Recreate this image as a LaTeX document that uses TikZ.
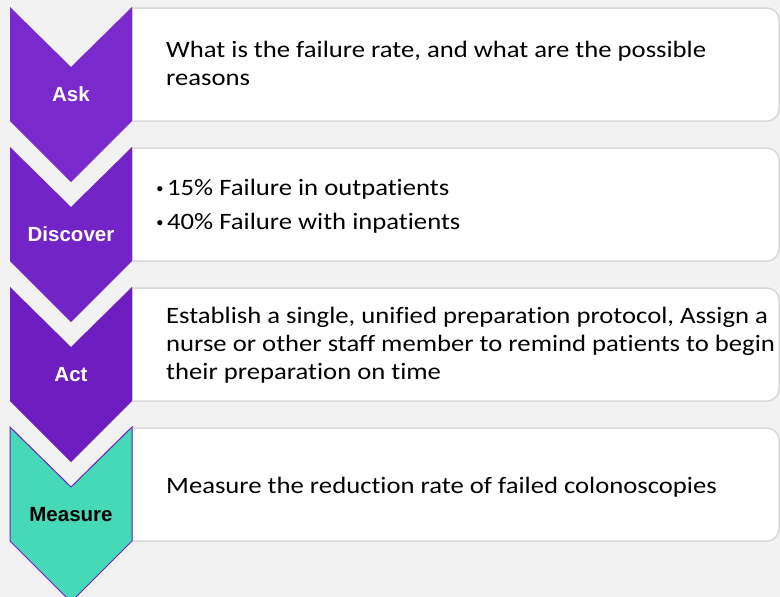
\documentclass[tikz,border=0pt]{standalone}
\usepackage{fontspec}
\setmainfont{Carlito}
\newfontfamily\bodyfont[FakeStretch=1.135,RawFeature=-liga]{Carlito}
\newfontfamily\tagfont{Liberation Sans}
\definecolor{pagebg}{HTML}{F2F2F2}
\definecolor{boxline}{HTML}{D9D9D9}
\definecolor{violetA}{HTML}{7A29CC}
\definecolor{violetB}{HTML}{7324C6}
\definecolor{violetC}{HTML}{6E1EC0}
\definecolor{mint}{HTML}{45D9B8}
\definecolor{mintline}{HTML}{7020C4}
% stacked lines with a fixed line pitch; the node baseline is the first line
\newcommand\stackedlines[2]{\vtop{\baselineskip=#1\relax\lineskiplimit=-100pt\relax #2}}
\newcommand\bulletline[1]{\hbox{\llap{{\tagfont\fontsize{19}{19}\selectfont\textbullet}\hspace{4pt}}#1}}
\begin{document}
\begin{tikzpicture}[x=1pt,y=-1pt,
  infobox/.style={fill=white,draw=boxline,line width=1.5pt},
  bodytext/.style={anchor=base west,inner sep=0pt,font=\bodyfont\fontsize{23.5}{28}\selectfont,text=black},
  tagtext/.style={anchor=base,inner sep=0pt,font=\tagfont\bfseries\fontsize{20.5}{24}\selectfont}]
\fill[pagebg] (0,0) rectangle (780,597);
\useasboundingbox (0,0) rectangle (780,597);
\clip (0,0) rectangle (780,597);

% white panels, square on the left and rounded on the right
\foreach \t in {8,148,288,428}{
  \draw[infobox] (132,\t) -- (767,\t) arc[start angle=-90,end angle=0,radius=12]
    -- (779,\t+101) arc[start angle=0,end angle=90,radius=12] -- (132,\t+113) -- cycle;
}

% chevrons
\fill[violetA] (10,7) -- (71,67) -- (132,7) -- (132,121) -- (71,182) -- (10,121) -- cycle;
\fill[violetB] (10,147) -- (71,207) -- (132,147) -- (132,261) -- (71,322) -- (10,261) -- cycle;
\fill[violetC] (10,287) -- (71,347) -- (132,287) -- (132,401) -- (71,462) -- (10,401) -- cycle;
\filldraw[fill=mint,draw=mintline,line width=1pt] (10,427) -- (71,487) -- (132,427) -- (132,541) -- (71,602) -- (10,541) -- cycle;

% chevron captions
\node[tagtext,text=white] (ask) at (71,101) {Ask};
\node[tagtext,text=white] (discover) at (71,241.5) {Discover};
\node[tagtext,text=white] (act) at (71,381.5) {Act};
\node[tagtext,text=black] (measure) at (71,521.5) {Measure};

% panel texts
\node[bodytext] (asktext) at (166,57) {\stackedlines{28.5pt}{%
  \hbox{What is the failure rate, and what are the possible}%
  \hbox{reasons}}};
\node[bodytext] (discovertext) at (167,195) {\stackedlines{34pt}{%
  \bulletline{15\% Failure in outpatients}%
  \bulletline{40\% Failure with inpatients}}};
\node[bodytext] (acttext) at (166,323) {\stackedlines{28pt}{%
  \hbox{Establish a single, unified preparation protocol, Assign a}%
  \hbox{nurse or other staff member to remind patients to begin}%
  \hbox{their preparation on time}}};
\node[bodytext] (measuretext) at (166,493) {Measure the reduction rate of failed colonoscopies};
\end{tikzpicture}
\end{document}
